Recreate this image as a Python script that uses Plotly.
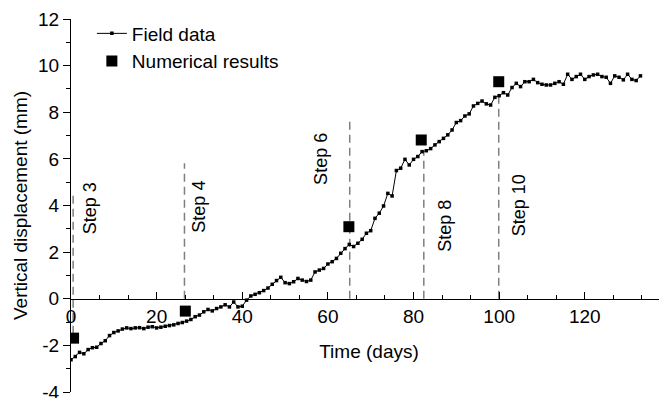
import plotly.graph_objects as go

# ---------------- data ----------------
field_days = list(range(0, 134))
field_disp = [
    -2.62, -2.48, -2.30, -2.36, -2.18, -2.10, -2.08, -1.92, -1.80, -1.58,
    -1.45, -1.38, -1.30, -1.25, -1.28, -1.25, -1.24, -1.28, -1.22, -1.20,
    -1.25, -1.22, -1.18, -1.15, -1.12, -1.06, -1.02, -0.96, -0.89, -0.77,
    -0.70, -0.56, -0.46, -0.52, -0.42, -0.35, -0.26, -0.35, -0.14, -0.35,
    -0.32, -0.06, 0.12, 0.19, 0.26, 0.35, 0.46, 0.62, 0.78, 0.92,
    0.69, 0.65, 0.73, 0.87, 0.80, 0.74, 0.80, 1.15, 1.23, 1.30,
    1.49, 1.59, 1.73, 1.95, 2.15, 2.33, 2.24, 2.38, 2.55, 2.81,
    2.92, 3.45, 3.67, 3.98, 4.52, 4.41, 5.50, 5.60, 5.98, 5.74,
    5.98, 6.10, 6.31, 6.35, 6.44, 6.60, 6.74, 6.88, 7.03, 7.24,
    7.56, 7.64, 7.84, 7.93, 8.27, 8.38, 8.48, 8.36, 8.31, 8.64,
    8.71, 8.84, 8.74, 9.06, 9.24, 9.10, 9.31, 9.31, 9.41, 9.27,
    9.20, 9.17, 9.17, 9.24, 9.31, 9.20, 9.63, 9.41, 9.53, 9.63,
    9.41, 9.53, 9.60, 9.63, 9.53, 9.50, 9.24, 9.56, 9.50, 9.39,
    9.63, 9.41, 9.36, 9.56,
]

num_days = [0.6, 26.7, 64.9, 81.8, 99.9]
num_disp = [-1.69, -0.53, 3.09, 6.81, 9.31]

step_names = ["Step 3", "Step 4", "Step 6", "Step 8", "Step 10"]
step_days = [0.5, 26.5, 65.1, 82.4, 99.9]
step_line_top = [4.48, 5.81, 7.6, 6.31, 8.67]
step_line_bottom = [-1.5, 0.0, 0.0, 0.0, 0.0]
step_label_x = [4.3, 30.0, 58.5, 87.3, 104.7]
step_label_y = [3.9, 3.97, 6.02, 3.12, 4.02]

x_ticks = [0, 20, 40, 60, 80, 100, 120]
x_ticktext = ["0", "20", "40", "60", "80", "100", "120"]
y_ticks = [-4, -2, 0, 2, 4, 6, 8, 10, 12]
y_ticktext = ["-4", "-2", "0", "2", "4", "6", "8", "10", "12"]

FONT = "Liberation Sans, Arial, sans-serif"

fig = go.Figure()

# dashed step lines
for d, top, bot in zip(step_days, step_line_top, step_line_bottom):
    fig.add_trace(go.Scatter(
        x=[d, d], y=[bot, top], mode="lines",
        line=dict(color="#7f7f7f", width=1.5, dash="8px,5px"),
        showlegend=False, hoverinfo="skip",
    ))

fig.add_trace(go.Scatter(
    x=field_days, y=field_disp, mode="lines+markers", name="Field data",
    line=dict(color="black", width=1),
    marker=dict(symbol="square", size=3.5, color="black"),
))

fig.add_trace(go.Scatter(
    x=num_days, y=num_disp, mode="markers", name="Numerical results",
    marker=dict(symbol="square", size=11, color="black"),
))

for name, lx, ly in zip(step_names, step_label_x, step_label_y):
    fig.add_annotation(
        x=lx, y=ly, xref="x", yref="y", text=name, showarrow=False,
        textangle=-90, font=dict(family=FONT, size=18, color="black"),
        xanchor="center", yanchor="middle",
    )

# page body has an 8px margin; size the figure so the plot lands where the reference has it
fig.update_layout(
    width=659, height=390,
    margin=dict(l=63, r=0, t=11, b=6),
    paper_bgcolor="white", plot_bgcolor="white",
    font=dict(family=FONT, size=19, color="black"),
    showlegend=True,
    legend=dict(
        x=0.035, y=1.012, xanchor="left", yanchor="top",
        bgcolor="rgba(0,0,0,0)", borderwidth=0,
        font=dict(family=FONT, size=19, color="black"),
        tracegroupgap=0,
    ),
    xaxis=dict(
        range=[0, 139.2], tickvals=x_ticks, ticktext=x_ticktext,
        ticks="inside", ticklen=7, tickwidth=1.3, tickcolor="black",
        showline=True, linecolor="black", linewidth=1.3,
        showgrid=False, zeroline=False,
        anchor="free", position=0.25,
        minor=dict(dtick=20 / 3, tick0=0, ticks="inside", ticklen=4,
                   tickwidth=1.3, tickcolor="black"),
        title=dict(text="Time (days)", standoff=18,
                   font=dict(family=FONT, size=19)),
        tickfont=dict(family=FONT, size=19),
        ticklabeloverflow="allow",
        automargin=False,
    ),
    yaxis=dict(
        range=[-4, 12], tickvals=y_ticks, ticktext=y_ticktext,
        ticks="outside", ticklen=7, tickwidth=1.3, tickcolor="black",
        showline=True, linecolor="black", linewidth=1.3,
        showgrid=False, zeroline=False,
        minor=dict(dtick=1, ticks="outside", ticklen=4, tickwidth=1.3,
                   tickcolor="black"),
        title=dict(text="Vertical displacement (mm)", standoff=5,
                   font=dict(family=FONT, size=19)),
        tickfont=dict(family=FONT, size=19),
        ticklabeloverflow="allow",
        automargin=False,
    ),
)

fig.write_html("out.html")
